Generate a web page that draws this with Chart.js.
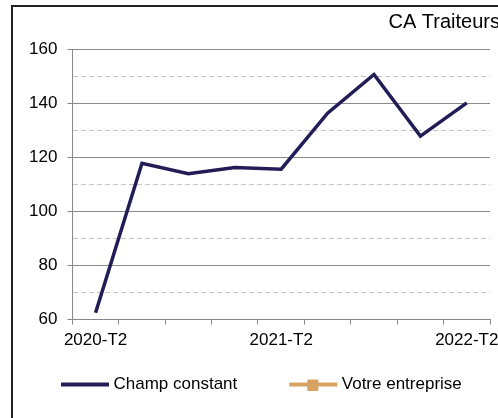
<!DOCTYPE html>
<html>
<head>
<meta charset="utf-8">
<script src="https://cdn.jsdelivr.net/npm/chart.js@4.4.0/dist/chart.umd.min.js"></script>
<style>
    html, body { margin: 0; padding: 0; background: #fff; overflow: hidden; width: 498px; height: 418px; }
    #frame { position: absolute; left: 11px; top: 5px; width: 540px; height: 440px;
             border-left: 2px solid #222; border-top: 2px solid #222; background: #fff; }
    #frame canvas { display: block; }
</style>
</head>
<body>
<div id="frame"><canvas id="myChart" width="540" height="420"></canvas></div>
<script>
// chart data
const quarters = ['2020-T2', '2020-T3', '2020-T4', '2021-T1', '2021-T2', '2021-T3', '2021-T4', '2022-T1', '2022-T2'];
const champConstant = [62.5, 117.8, 113.9, 116.2, 115.6, 136.3, 150.6, 127.8, 140.1];
const votreEntreprise = [null, null, null, null, null, null, null, null, null];
const shownLabels = ['2020-T2', '2021-T2', '2022-T2'];
const yTicks = [60, 80, 100, 120, 140, 160];

const navy = '#221d57';
const tan = '#d8a263';

// legend symbols (line, optional square marker)
function legendLine(color, withSquare) {
    const c = document.createElement('canvas');
    c.width = 50; c.height = 12;
    const g = c.getContext('2d');
    g.strokeStyle = color;
    g.lineWidth = 4;
    g.beginPath(); g.moveTo(1, 6); g.lineTo(49, 6); g.stroke();
    if (withSquare) {
        g.fillStyle = color;
        g.fillRect(19, 1, 11, 11);
    }
    return c;
}

// legend placement tweaks: fixed height, own position
const legendTweak = {
    id: 'legendTweak',
    beforeInit(chart) {
        const fit = chart.legend.fit;
        chart.legend.fit = function () {
            fit.bind(chart.legend)();
            this.height = 40;
        };
    },
    afterLayout(chart) {
        const lg = chart.legend;
        lg.left = -4;
        lg.right = 700;
        lg.top = 313;
        const t = chart.titleBlock;
        t.left += 10;
        t.right += 10;
    }
};

const ctx = document.getElementById('myChart').getContext('2d');
Chart.defaults.font.family = '"Liberation Sans", Arial, sans-serif';
Chart.defaults.color = '#000';

new Chart(ctx, {
    type: 'line',
    data: {
        labels: quarters,
        datasets: [
            {
                label: 'Champ constant',
                data: champConstant,
                borderColor: navy,
                backgroundColor: navy,
                borderWidth: 3.5,
                pointRadius: 0,
                tension: 0,
                pointStyle: legendLine(navy, false)
            },
            {
                label: 'Votre entreprise',
                data: votreEntreprise,
                borderColor: tan,
                backgroundColor: tan,
                borderWidth: 3.5,
                pointRadius: 0,
                pointStyle: legendLine(tan, true)
            }
        ]
    },
    options: {
        responsive: false,
        animation: false,
        layout: { padding: { left: 6, right: 63, top: 0, bottom: 30 } },
        plugins: {
            title: {
                display: true,
                text: 'CA Traiteurs',
                align: 'end',
                color: '#000',
                font: { size: 20, weight: 'normal' },
                padding: { top: 3, bottom: 15 }
            },
            legend: {
                position: 'bottom',
                align: 'start',
                labels: {
                    usePointStyle: true,
                    pointStyleWidth: 40,
                    font: { size: 17 },
                    color: '#000',
                    padding: 56
                }
            },
            tooltip: { enabled: false }
        },
        scales: {
            x: {
                offset: true,
                grid: { offset: true, drawOnChartArea: false, drawTicks: true, tickLength: 5, tickColor: '#888' },
                border: { color: '#888', width: 1 },
                ticks: {
                    autoSkip: false,
                    maxRotation: 0,
                    font: { size: 17 },
                    color: '#000',
                    padding: 6,
                    callback: function (v, i) {
                        const l = quarters[i];
                        return shownLabels.includes(l) ? l : '';
                    }
                }
            },
            y: {
                min: 60,
                max: 160,
                grid: {
                    color: c => (c.tick.value % 20 === 0 ? '#8a8a8a' : '#c4c4c4'),
                    tickColor: c => (c.tick.value % 20 === 0 ? '#888' : 'rgba(0,0,0,0)'),
                    tickLength: 5,
                    lineWidth: 1
                },
                border: {
                    color: '#888',
                    dash: c => (c.tick && c.tick.value % 20 !== 0 ? [5, 3] : [])
                },
                ticks: {
                    stepSize: 10,
                    autoSkip: false,
                    font: { size: 17 },
                    color: '#000',
                    padding: 10,
                    callback: v => (yTicks.includes(v) ? v : '')
                }
            }
        }
    },
    plugins: [legendTweak]
});
</script>
</body>
</html>
